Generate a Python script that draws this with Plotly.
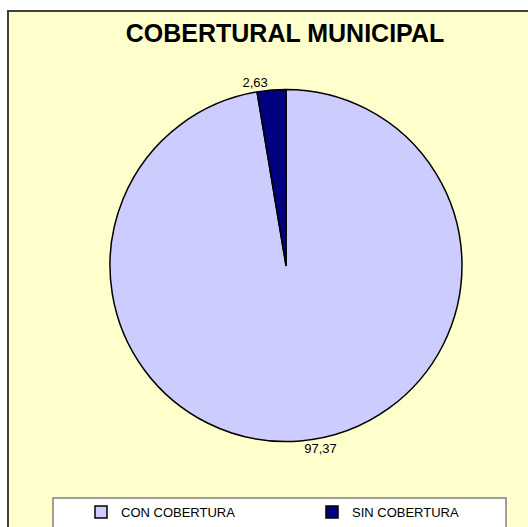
import plotly.graph_objects as go

categories = ["CON COBERTURA", "SIN COBERTURA"]
values = [97.37, 2.63]
value_labels = ["97,37", "2,63"]
colors = ["#CCCCFF", "#000080"]

W, H = 528, 527

def px_x(x):
    return x / W

def px_y(y):
    return 1 - y / H

fig = go.Figure()
fig.add_trace(go.Pie(
    labels=categories,
    values=values,
    text=value_labels,
    textinfo="text",
    texttemplate="%{text}",
    textposition="outside",
    textfont=dict(family="Liberation Sans, Arial", size=13, color="black"),
    marker=dict(colors=colors, line=dict(color="black", width=1.5)),
    sort=False,
    direction="clockwise",
    rotation=0,
    hole=0,
    domain=dict(x=[px_x(110), px_x(462)], y=[px_y(443), px_y(88)]),
    showlegend=True,
))

fig.update_layout(
    width=W, height=H,
    margin=dict(l=0, r=0, t=0, b=0, autoexpand=False),
    paper_bgcolor="white",
    title=dict(
        text="<b>COBERTURAL MUNICIPAL</b>",
        x=px_x(285), xanchor="center",
        y=px_y(33.5), yanchor="middle",
        font=dict(family="Liberation Sans, Arial", size=25, color="black"),
    ),
    legend=dict(
        orientation="h",
        x=px_x(81), xanchor="left",
        y=px_y(512), yanchor="middle",
        bgcolor="rgba(0,0,0,0)",
        borderwidth=0,
        entrywidth=186,
        entrywidthmode="pixels",
        font=dict(family="Liberation Sans, Arial", size=13, color="black"),
    ),
    shapes=[
        dict(type="rect", xref="paper", yref="paper",
             x0=px_x(8), x1=1.05, y0=-0.05, y1=px_y(11),
             fillcolor="#FFFFCC", line=dict(color="#404040", width=2), layer="below"),
        dict(type="rect", xref="paper", yref="paper",
             x0=px_x(53), x1=px_x(506), y0=-0.05, y1=px_y(498),
             fillcolor="white", line=dict(color="#808080", width=1.5), layer="below"),
    ],
)

fig.write_html(
    "out.html",
    config={"displayModeBar": False},
    post_script="document.body.style.margin='0';document.body.style.overflow='hidden';",
)
